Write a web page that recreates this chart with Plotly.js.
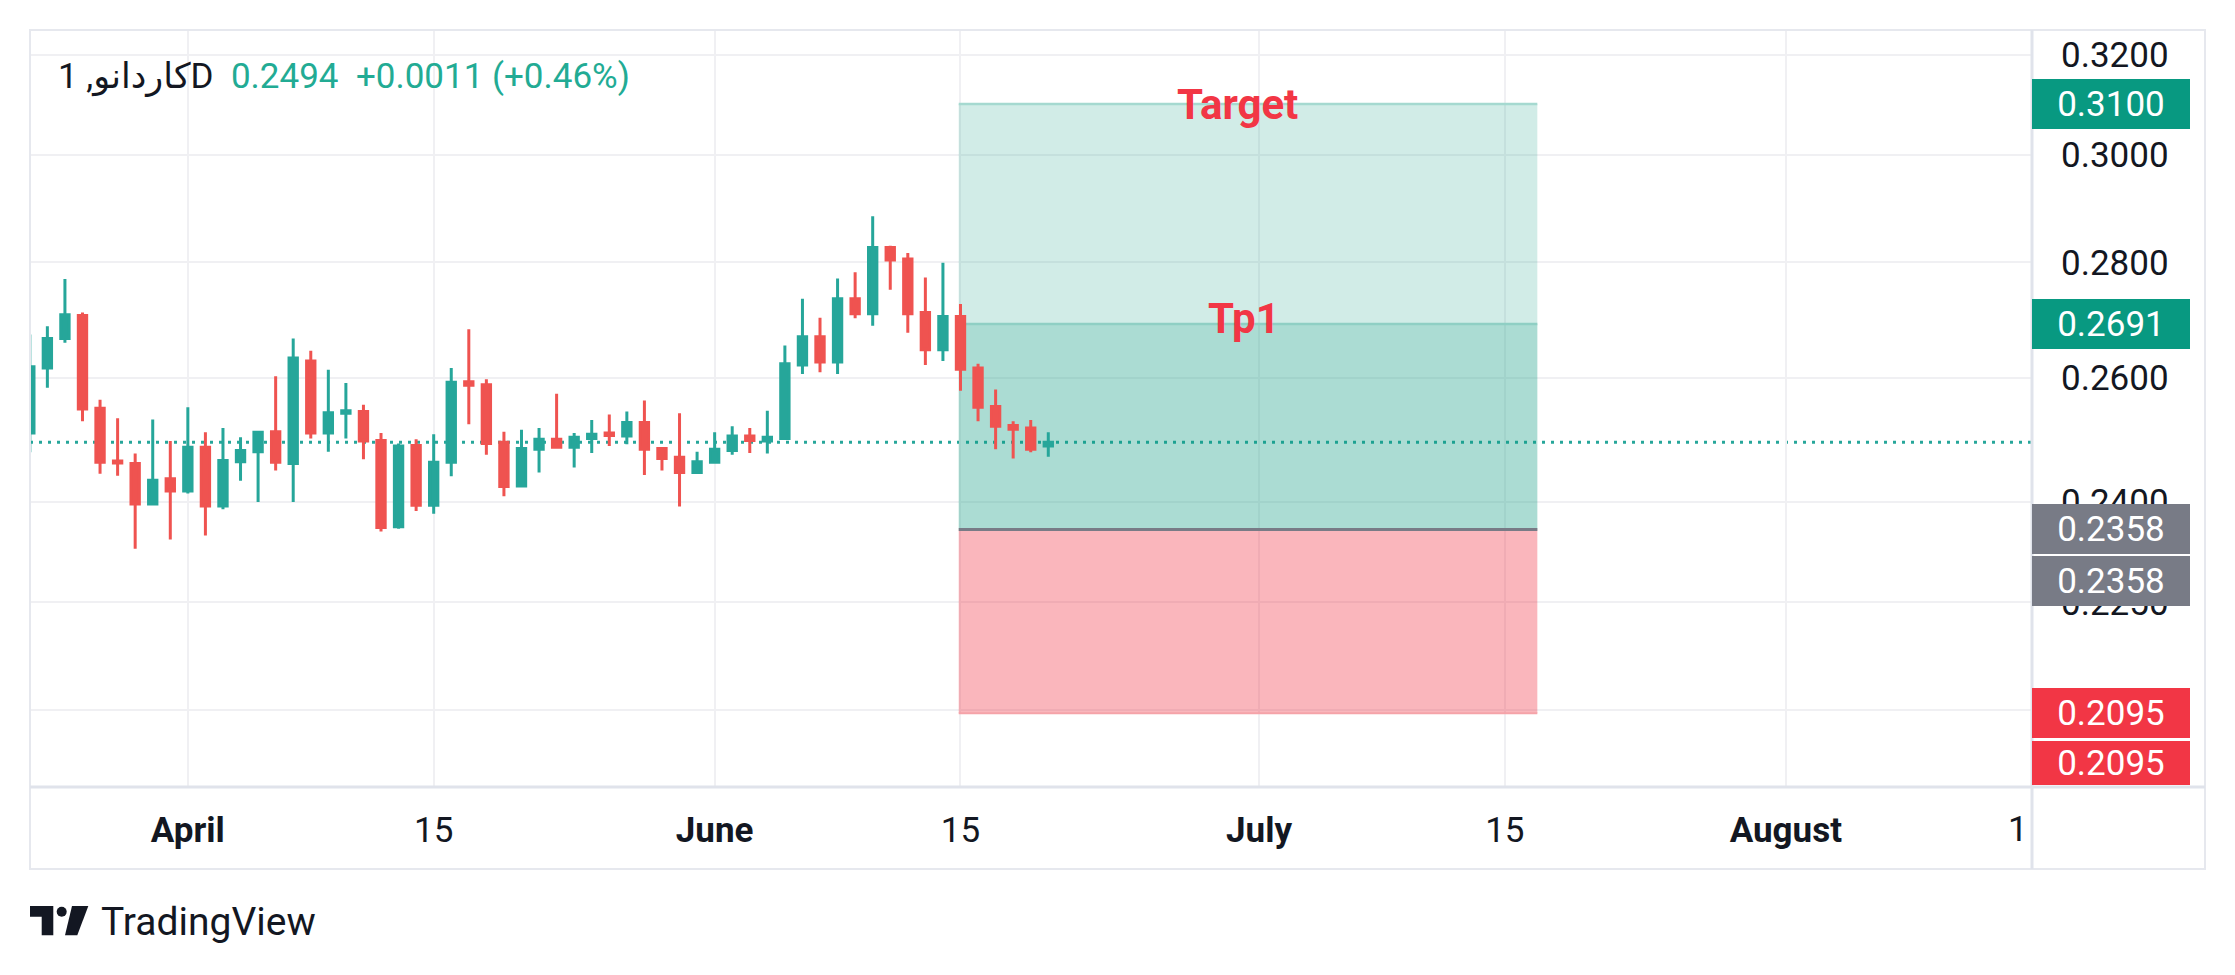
<!DOCTYPE html>
<html>
<head>
<meta charset="utf-8">
<script src="https://cdn.plot.ly/plotly-3.0.1.min.js"></script>
<style>html,body{margin:0;padding:0;background:#fff;}#chart{width:2235px;height:975px;}</style>
</head>
<body>
<div id="chart"></div>
<script>
// ---- data (daily candles, oldest first) ----
const open = [0.2509,0.2616,0.2666,0.2706,0.2549,0.2464,0.2460,0.2397,0.2436,0.2417,
  0.2486,0.2394,0.2463,0.2479,0.2511,0.2460,0.2628,0.2509,0.2541,0.2544,
  0.2497,0.2362,0.2489,0.2395,0.2462,0.2593,0.2588,0.2494,0.2425,0.2483,
  0.2499,0.2486,0.2500,0.2509,0.2504,0.2526,0.2484,0.2470,0.2446,0.2462,
  0.2481,0.2504,0.2496,0.2500,0.2621,0.2669,0.2626,0.2735,0.2709,0.2827,
  0.2806,0.2711,0.2647,0.2704,0.2616,0.2552,0.2521,0.2517,0.2488];
const high = [0.2673,0.2687,0.2770,0.2711,0.2563,0.2533,0.2476,0.2531,0.2496,0.2551,
  0.2510,0.2517,0.2502,0.2511,0.2602,0.2666,0.2645,0.2613,0.2591,0.2555,
  0.2509,0.2492,0.2499,0.2507,0.2616,0.2682,0.2597,0.2511,0.2514,0.2517,
  0.2573,0.2509,0.2530,0.2539,0.2544,0.2562,0.2486,0.2541,0.2479,0.2510,
  0.2520,0.2517,0.2545,0.2654,0.2735,0.2702,0.2771,0.2782,0.2884,0.2830,
  0.2817,0.2773,0.2799,0.2726,0.2623,0.2580,0.2528,0.2530,0.2510];
const low = [0.2478,0.2583,0.2659,0.2528,0.2444,0.2441,0.2329,0.2395,0.2343,0.2413,
  0.2349,0.2389,0.2433,0.2400,0.2449,0.2400,0.2500,0.2479,0.2500,0.2467,
  0.2355,0.2359,0.2386,0.2382,0.2440,0.2523,0.2474,0.2409,0.2425,0.2446,
  0.2486,0.2454,0.2477,0.2488,0.2491,0.2442,0.2449,0.2393,0.2446,0.2462,
  0.2474,0.2477,0.2476,0.2500,0.2606,0.2609,0.2606,0.2701,0.2688,0.2751,
  0.2676,0.2621,0.2628,0.2578,0.2528,0.2483,0.2468,0.2478,0.2471];
const close = [0.2618,0.2666,0.2707,0.2548,0.2462,0.2461,0.2397,0.2434,0.2417,0.2486,
  0.2394,0.2465,0.2481,0.2510,0.2462,0.2633,0.2509,0.2542,0.2545,0.2496,
  0.2361,0.2488,0.2395,0.2462,0.2592,0.2587,0.2492,0.2424,0.2484,0.2499,
  0.2486,0.2502,0.2507,0.2505,0.2526,0.2483,0.2468,0.2446,0.2463,0.2483,
  0.2504,0.2497,0.2502,0.2623,0.2669,0.2626,0.2735,0.2709,0.2827,0.2804,
  0.2709,0.2647,0.2704,0.2614,0.2551,0.2520,0.2515,0.2483,0.2494];
const dayIndex = close.map((_, i) => i);

// x-axis ticks (bar index) and their labels
const xTickVals = [9, 23, 39, 53, 70, 84, 100];
const xTickText = ['<b>April</b>', '15', '<b>June</b>', '15', '<b>July</b>', '15', '<b>August</b>'];
const xCutLabel = '1';

// y-axis ticks (log scale)
const yTickVals = [0.21, 0.225, 0.24, 0.26, 0.28, 0.30, 0.32];
const yTickText = ['0.2100', '0.2250', '0.2400', '0.2600', '0.2800', '0.3000', '0.3200'];

// position tool levels
const lastPrice = 0.2494;
const targetPrice = 0.3100;
const tp1Price = 0.2691;
const entryPrice = 0.2358;
const stopPrice = 0.2095;
const boxStart = 52.9, boxEnd = 85.85;

const headerSymbol = 'کاردانو, 1D';
const headerValues = '0.2494\u00a0\u00a0+0.0011 (+0.46%)';

// ---- layout helpers (pixel -> paper) ----
const PL = 30, PR = 2032, PT = 30, PB = 787;
const px = x => (x - PL) / (PR - PL);
const py = y => (PB - y) / (PB - PT);
const FONT = 'Roboto, "Noto Sans", "DejaVu Sans", sans-serif';
const UP = '#26a69a', DOWN = '#ef5350';

const trace = {
  type: 'candlestick',
  x: dayIndex, open: open, high: high, low: low, close: close,
  increasing: {line: {color: UP, width: 3}, fillcolor: UP},
  decreasing: {line: {color: DOWN, width: 3}, fillcolor: DOWN},
  whiskerwidth: 0,
  hoverinfo: 'skip',
  showlegend: false
};

const shapes = [
  // position zones
  {type:'rect', layer:'between', xref:'x', yref:'y', x0:boxStart, x1:boxEnd, y0:entryPrice, y1:targetPrice, fillcolor:'rgba(8,153,129,0.19)', line:{width:0}},
  {type:'rect', layer:'between', xref:'x', yref:'y', x0:boxStart, x1:boxEnd, y0:entryPrice, y1:tp1Price, fillcolor:'rgba(8,153,129,0.19)', line:{width:0}},
  {type:'rect', layer:'between', xref:'x', yref:'y', x0:boxStart, x1:boxEnd, y0:stopPrice, y1:entryPrice, fillcolor:'rgba(242,54,69,0.36)', line:{width:0}},
  {type:'line', layer:'between', xref:'x', yref:'y', x0:boxStart, x1:boxEnd, y0:targetPrice, y1:targetPrice, line:{color:'#a5d9d0', width:2.5}},
  {type:'line', layer:'between', xref:'x', yref:'y', x0:boxStart, x1:boxEnd, y0:tp1Price, y1:tp1Price, line:{color:'#8fcfc4', width:2.5}},
  {type:'line', layer:'between', xref:'x', yref:'y', x0:boxStart, x1:boxEnd, y0:stopPrice, y1:stopPrice, line:{color:'#f5a3a9', width:2}},
  {type:'line', layer:'between', xref:'x', yref:'y', x0:boxStart, x1:boxEnd, y0:entryPrice, y1:entryPrice, line:{color:'#787b86', width:3}},
  // last price dotted line
  {type:'line', layer:'between', xref:'paper', yref:'y', x0:0, x1:1, y0:lastPrice, y1:lastPrice, line:{color:UP, width:3, dash:'3px,6px'}},
  // frame & separators
  {type:'rect', layer:'above', xref:'paper', yref:'paper', x0:0, x1:px(2205), y0:py(869), y1:1, line:{color:'#e6e8ee', width:2}, fillcolor:'rgba(0,0,0,0)'},
  {type:'line', layer:'above', xref:'paper', yref:'paper', x0:0, x1:px(2205), y0:0, y1:0, line:{color:'#e0e3eb', width:3}},
  {type:'line', layer:'above', xref:'paper', yref:'paper', x0:1, x1:1, y0:py(869), y1:1, line:{color:'#e0e3eb', width:3}},
  // TradingView logo
  {type:'path', layer:'above', xref:'paper', yref:'paper', fillcolor:'#131722', line:{width:0},
   path:`M ${px(30)},${py(906)} L ${px(53.3)},${py(906)} L ${px(53.3)},${py(935.3)} L ${px(41.7)},${py(935.3)} L ${px(41.7)},${py(916.7)} L ${px(30)},${py(916.7)} Z`},
  {type:'circle', layer:'above', xref:'paper', yref:'paper', fillcolor:'#131722', line:{width:0},
   x0:px(56.7), x1:px(66.7), y0:py(916.7), y1:py(906.7)},
  {type:'path', layer:'above', xref:'paper', yref:'paper', fillcolor:'#131722', line:{width:0},
   path:`M ${px(72)},${py(906)} L ${px(88.3)},${py(906)} L ${px(77.3)},${py(935.3)} L ${px(65)},${py(935.3)} Z`}
];

function priceBox(price, color, shift) {
  return {xref:'paper', yref:'y', x:1, y:Math.log10(price), xanchor:'left', yanchor:'middle',
    yshift: shift || 0, showarrow:false, text: price.toFixed(4),
    font:{family:FONT, size:35, color:'#ffffff'}, bgcolor:color, width:154, height:46,
    borderpad:2, borderwidth:0, align:'center'};
}

const annotations = [
  {xref:'paper', yref:'paper', x:px(56), y:py(77), xanchor:'left', yanchor:'middle', showarrow:false,
   text:`<span style="color:#131722">${headerSymbol}</span>\u00a0\u00a0<span style="color:#22ab94">${headerValues}</span>`,
   font:{family:FONT, size:35, color:'#131722'}},
  {xref:'x', yref:'y', x:68.75, y:Math.log10(targetPrice), xanchor:'center', yanchor:'middle', showarrow:false,
   text:'<b>Target</b>', font:{family:FONT, size:42, color:'#f23645'}},
  {xref:'x', yref:'y', x:69.15, y:Math.log10(tp1Price), yshift:6, xanchor:'center', yanchor:'middle', showarrow:false,
   text:'<b>Tp1</b>', font:{family:FONT, size:42, color:'#f23645'}},
  priceBox(targetPrice, '#089981'),
  priceBox(tp1Price, '#089981'),
  priceBox(entryPrice, '#787b86'),
  priceBox(entryPrice, '#787b86', -52),
  priceBox(stopPrice, '#f23645'),
  Object.assign(priceBox(stopPrice, '#f23645', -50), {height:40}),
  {xref:'x', yref:'paper', x:113.2, y:py(829), xanchor:'center', yanchor:'middle', showarrow:false,
   text:xCutLabel, font:{family:FONT, size:35, color:'#131722'}},
  {xref:'paper', yref:'paper', x:px(99), y:py(922), xanchor:'left', yanchor:'middle', showarrow:false,
   text:'TradingView', font:{family:FONT, size:39, color:'#131722'}}
];

const layout = {
  width: 2235, height: 975,
  margin: {l:PL, r:2235-PR, t:PT, b:975-PB, pad:0},
  paper_bgcolor:'#ffffff', plot_bgcolor:'#ffffff',
  showlegend:false,
  boxgap:0.32,
  font:{family:FONT, color:'#131722'},
  xaxis: {type:'linear', range:[0.011, 114.02], tickmode:'array', tickvals:xTickVals, ticktext:xTickText,
    showgrid:true, gridcolor:'#f0f0f3', gridwidth:2, zeroline:false, showline:false, ticks:'',
    tickfont:{family:FONT, size:35, color:'#131722'}, ticklabelstandoff:19,
    rangeslider:{visible:false}, fixedrange:true},
  yaxis: {type:'log', side:'right', range:[Math.log10(0.19981), Math.log10(0.32512)],
    tickmode:'array', tickvals:yTickVals, ticktext:yTickText,
    showgrid:true, gridcolor:'#f0f0f3', gridwidth:2, zeroline:false, showline:false, ticks:'',
    tickfont:{family:FONT, size:35, color:'#131722'}, ticklabelstandoff:28, fixedrange:true},
  shapes: shapes,
  annotations: annotations
};

Plotly.newPlot('chart', [trace], layout, {staticPlot:true, displayModeBar:false});
</script>
</body>
</html>
